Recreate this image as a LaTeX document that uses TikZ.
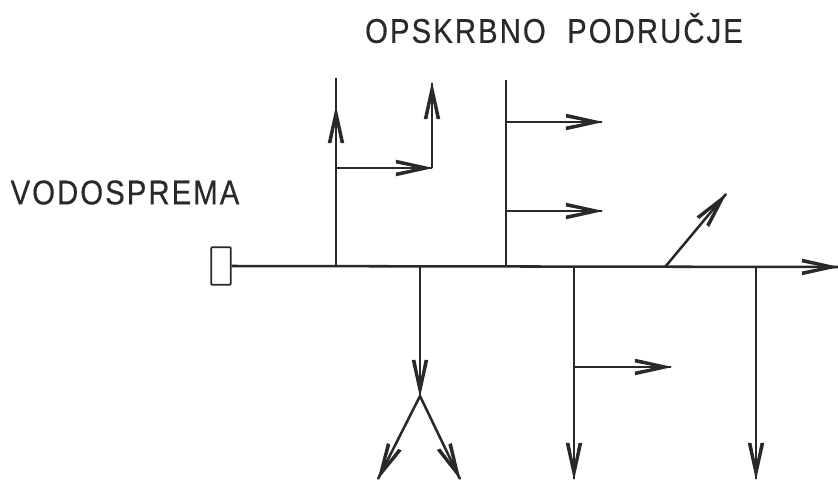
\documentclass[tikz,border=0pt]{standalone}
\usepackage{graphicx}
\usepackage{fontspec}
\setmainfont{Liberation Sans}
\newfontfamily\labelfont[LetterSpace=7,FakeBold=0.4]{Liberation Sans}
\usetikzlibrary{decorations.markings}
\definecolor{ink}{HTML}{2A2828}
\newcommand{\tallcap}[1]{\scalebox{1}[1.17]{#1}}
\tikzset{
  pipe/.style={draw=ink,line width=1.9pt},
  flow/.style={pipe,postaction={decorate,decoration={markings,mark=at position 0.9999 with {
    \fill[ink,line join=round] (1pt,0pt) -- (-27pt,6.2pt) -- (-27pt,3.4pt) -- (-15pt,1pt) -- (-15pt,-1pt) -- (-27pt,-3.4pt) -- (-27pt,-6.2pt) -- cycle;
  }}}},
  tank/.style={draw=ink,line width=1.3pt,fill=white,minimum width=14.5pt,minimum height=28pt,inner sep=0pt,rounded corners=0.5pt},
  caption/.style={text=ink,font=\labelfont\fontsize{22pt}{26pt}\selectfont,inner sep=0pt,anchor=center},
}
\begin{document}
\begin{tikzpicture}[x=0.75pt,y=-0.75pt]
\useasboundingbox (0,0) rectangle (838,479);
\node[caption] (t1) at (554,28) {\tallcap{OPSKRBNO\hspace{16pt}PODRUČJE}};
\node[caption] (t2) at (125,192.5) {\tallcap{VODOSPREMA}};
\node[tank] (tank) at (221,266) {};
\coordinate (m) at (838,267);
\coordinate (j1) at (336,265.5);
\coordinate (j2) at (420,266);
\coordinate (j3) at (506,266);
\coordinate (j4) at (574,267);
\coordinate (j5) at (665,267);
\coordinate (j6) at (756,267);
\draw[flow] (tank.east) -- (m);
\coordinate (a1top) at (336,78);
\coordinate (a1tip) at (336,107);
\coordinate (a1s) at (336,168);
\coordinate (a1c) at (432,168);
\coordinate (a1e) at (432,83);
\draw[pipe] (j1) -- (a1top);
\draw[flow] (j1) -- (a1tip);
\draw[flow] (a1s) -- (a1c);
\draw[flow] (a1c) -- (a1e);
\coordinate (b1top) at (506,80);
\coordinate (b1a) at (506,122);
\coordinate (b1ae) at (602,122);
\coordinate (b1b) at (506,211);
\coordinate (b1be) at (602,211);
\draw[pipe] (j3) -- (b1top);
\draw[flow] (b1a) -- (b1ae);
\draw[flow] (b1b) -- (b1be);
\coordinate (d) at (726,194);
\draw[flow] (j5) -- (d);
\coordinate (y) at (420,396);
\coordinate (yl) at (378,479);
\coordinate (yr) at (460,479);
\draw[flow] (j2) -- (y);
\draw[flow] (y) -- (yl);
\draw[flow] (y) -- (yr);
\coordinate (c1) at (574,479);
\coordinate (c2) at (574,367);
\coordinate (c3) at (671,367);
\draw[flow] (j4) -- (c1);
\draw[flow] (c2) -- (c3);
\coordinate (e1) at (756,479);
\draw[flow] (j6) -- (e1);
\end{tikzpicture}
\end{document}
